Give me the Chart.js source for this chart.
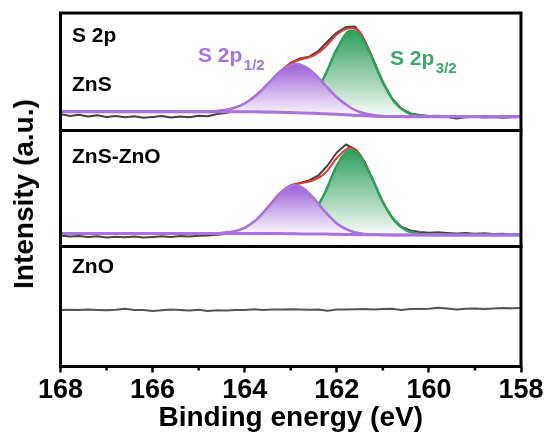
<!DOCTYPE html>
<html>
<head>
<meta charset="utf-8">
<script src="https://cdn.jsdelivr.net/npm/chart.js@4.4.0/dist/chart.umd.min.js"></script>
<style>
  html, body { margin: 0; padding: 0; background: #fff; }
  #wrap { position: relative; width: 549px; height: 434px; overflow: hidden; font-family: "Liberation Sans", Arial, sans-serif; }
  canvas { position: absolute; left: 0; }
  #ytitle {
    position: absolute; left: 24px; top: 194px;
    transform: translate(-50%, -50%) rotate(-90deg);
    font-weight: bold; font-size: 28px; line-height: 1; white-space: nowrap; color: #000;
  }
</style>
</head>
<body>
<div id="wrap">
  <canvas id="zns" width="549" height="131" style="top:0"></canvas>
  <canvas id="mix" width="549" height="119" style="top:129px"></canvas>
  <canvas id="zno" width="549" height="189" style="top:245px"></canvas>
  <div id="ytitle">Intensity (a.u.)</div>
</div>
<script>
// binding energies (eV) of the fitted curves
const fitEnergy = [168, 166, 165, 164.5, 164.25, 164, 163.75, 163.5, 163.25, 163, 162.9, 162.75,
  162.5, 162.25, 162, 161.7, 161.5, 161.25, 161, 160.75, 160.5, 160.25, 160, 159.5, 158];

// binding energies (eV) of the measured spectra
const rawEnergy = [168.0, 167.8, 167.6, 167.4, 167.2, 167.0, 166.8, 166.6, 166.4, 166.2, 166.0,
  165.8, 165.6, 165.4, 165.2, 165.0, 164.8, 164.6, 164.4, 164.2, 164.0, 163.8, 163.6, 163.4,
  163.2, 163.0, 162.8, 162.6, 162.4, 162.2, 162.0, 161.8, 161.6, 161.4, 161.2, 161.0, 160.8,
  160.6, 160.4, 160.2, 160.0, 159.8, 159.6, 159.4, 159.2, 159.0, 158.8, 158.6, 158.4, 158.2, 158.0];

// ZnS
const znsBaseline = [18.8, 18.8, 18.8, 18.8, 18.8, 18.7, 18.7, 18.5, 18.3, 17.9, 17.8, 17.6,
  17.2, 16.7, 16.2, 15.4, 14.9, 14.4, 14.1, 13.9, 13.8, 13.8, 13.8, 13.8, 13.8];
const znsP12 = [18.8, 18.8, 18.9, 20.0, 22.2, 27.0, 35.2, 46.5, 58.0, 65.4, 66.4, 65.2,
  57.4, 45.2, 33.2, 22.7, 18.5, 15.7, 14.4, 14.0, 13.8, 13.8, 13.8, 13.8, 13.8];
const znsP32 = [18.8, 18.8, 18.8, 18.8, 18.8, 18.7, 18.7, 18.5, 18.6, 19.6, 20.7, 23.7,
  34.9, 55.6, 81.3, 99.8, 95.7, 74.4, 48.0, 28.5, 18.6, 15.0, 14.0, 13.8, 13.8];
const znsFit = [18.8, 18.8, 18.9, 20.0, 22.2, 27.0, 35.2, 46.5, 58.4, 67.1, 69.2, 71.5,
  75.0, 83.5, 96.0, 102.6, 98.5, 75.4, 48.3, 28.6, 18.6, 15.0, 14.0, 13.8, 13.8];
const znsRaw = [16.5, 14.5, 15.8, 14.0, 15.2, 13.5, 14.6, 13.2, 14.2, 12.8, 13.6, 14.5, 13.0,
  14.0, 13.3, 14.8, 14.2, 16.5, 17.5, 20.5, 25.5, 32.5, 41.5, 50.5, 59.5, 67.8, 72.0, 73.8,
  79.5, 89.0, 98.0, 103.5, 104.0, 90.0, 69.5, 48.5, 32.0, 22.0, 17.0, 15.5, 14.5, 14.8, 13.6,
  12.0, 13.2, 13.8, 13.0, 13.6, 12.8, 13.3, 13.5];

// ZnS-ZnO
const mixBaseline = [13.0, 13.0, 13.0, 13.0, 13.0, 13.0, 13.0, 12.9, 12.9, 12.8, 12.7, 12.6,
  12.5, 12.4, 12.2, 12.0, 11.8, 11.7, 11.6, 11.5, 11.5, 11.5, 11.5, 11.5, 11.5];
const mixP12 = [13.0, 13.0, 13.0, 13.5, 14.9, 18.7, 26.6, 38.8, 52.3, 60.6, 61.2, 58.9,
  48.3, 34.5, 23.1, 15.5, 13.2, 12.0, 11.7, 11.5, 11.5, 11.5, 11.5, 11.5, 11.5];
const mixP32 = [13.0, 13.0, 13.0, 13.0, 13.0, 13.0, 13.0, 13.0, 13.4, 15.1, 16.7, 20.7,
  33.9, 54.5, 80.9, 96.6, 91.1, 69.7, 44.4, 25.9, 16.4, 12.8, 11.8, 11.5, 11.5];
const mixFit = [13.0, 13.0, 13.0, 13.5, 14.9, 18.7, 26.6, 38.9, 52.8, 61.3, 62.5, 63.5,
  66.5, 73.5, 88.5, 99.0, 92.5, 70.0, 44.5, 25.9, 16.4, 12.8, 11.8, 11.5, 11.5];
const mixRaw = [11.0, 10.0, 10.5, 9.5, 10.2, 9.0, 9.8, 9.2, 10.0, 9.0, 9.5, 10.2, 9.4, 10.5,
  10.0, 10.8, 11.0, 11.8, 12.5, 14.5, 17.5, 24.0, 33.5, 44.5, 54.5, 60.8, 63.5, 66.0, 71.0,
  81.0, 94.0, 102.0, 97.0, 85.0, 64.5, 44.0, 29.0, 19.8, 16.0, 14.5, 13.8, 14.2, 13.5, 13.0,
  13.6, 12.8, 13.2, 12.5, 12.8, 12.0, 12.2];

// ZnO
const znoRaw = [56.5, 56.8, 56.4, 56.9, 56.6, 56.3, 56.7, 57.8, 56.4, 56.6, 55.6, 56.3, 56.9,
  56.5, 55.9, 56.8, 55.5, 56.2, 56.1, 56.4, 56.5, 57.2, 56.6, 56.9, 57.1, 57.3, 57.0, 56.8,
  57.0, 55.7, 57.1, 56.9, 57.2, 57.4, 57.0, 57.5, 57.8, 56.6, 57.6, 57.5, 57.8, 58.8, 58.0,
  57.0, 57.8, 58.1, 57.6, 57.9, 58.4, 58.2, 58.6];

const FONT = '"Liberation Sans", Arial, sans-serif';
const PURPLE = "#a872e0";
const GREEN = "#2f9f5c";
const RED = "#e8342c";
const GRAY = "#444444";

Chart.defaults.font.family = FONT;

function toPoints(xs, ys) {
  return xs.map((x, i) => ({ x: x, y: ys[i] }));
}

function gradientFill(topColor, bottomColor) {
  return (context) => {
    const chart = context.chart;
    if (!chart.chartArea) return topColor;
    const ys = chart.data.datasets[context.datasetIndex].data.map((p) => p.y);
    const yScale = chart.scales.y;
    const g = chart.ctx.createLinearGradient(
      0, yScale.getPixelForValue(Math.max(...ys)),
      0, yScale.getPixelForValue(Math.min(...ys))
    );
    g.addColorStop(0, topColor);
    g.addColorStop(1, bottomColor);
    return g;
  };
}

const panelPlugin = {
  id: "panel",
  afterDraw(chart, args, opts) {
    const { ctx, chartArea } = chart;
    ctx.save();
    ctx.strokeStyle = "#000";
    ctx.lineWidth = 3;
    ctx.strokeRect(chartArea.left, chartArea.top,
      chartArea.right - chartArea.left, chartArea.bottom - chartArea.top);

    if (opts.minorTicks) {
      const xScale = chart.scales.x;
      ctx.lineWidth = 2.5;
      xScale.ticks.filter((t) => t.value % 2 !== 0).forEach((t) => {
        const px = xScale.getPixelForValue(t.value);
        ctx.beginPath();
        ctx.moveTo(px, chartArea.bottom);
        ctx.lineTo(px, chartArea.bottom + 4);
        ctx.stroke();
      });
    }

    (opts.labels || []).forEach((l) => {
      ctx.fillStyle = l.color || "#000";
      ctx.textBaseline = "alphabetic";
      ctx.textAlign = "left";
      ctx.font = `bold ${l.size}px ${FONT}`;
      ctx.fillText(l.text, l.x, l.y);
      if (l.sub) {
        const w = ctx.measureText(l.text).width;
        ctx.font = `bold 15px ${FONT}`;
        ctx.fillText(l.sub, l.x + w + 1.5, l.y + 8);
      }
    });
    ctx.restore();
  },
};

// order: lower value is drawn on top
function fitDatasets(baseline, p12, p32, fit, raw) {
  return [
    {
      data: toPoints(fitEnergy, p12),
      borderColor: PURPLE, borderWidth: 2.5,
      fill: 2,
      backgroundColor: gradientFill("#9c60d6", "#fdfbff"),
      cubicInterpolationMode: "monotone",
      order: 1,
    },
    {
      data: toPoints(fitEnergy, p32),
      borderColor: GREEN, borderWidth: 2.5,
      fill: 2,
      backgroundColor: gradientFill("#2f9d5b", "#f8fcf9"),
      cubicInterpolationMode: "monotone",
      order: 2,
    },
    {
      data: toPoints(fitEnergy, baseline),
      borderColor: PURPLE, borderWidth: 3,
      cubicInterpolationMode: "monotone",
      order: 0,
    },
    {
      data: toPoints(fitEnergy, fit),
      borderColor: RED, borderWidth: 2,
      cubicInterpolationMode: "monotone",
      order: 3,
    },
    {
      data: toPoints(rawEnergy, raw),
      borderColor: GRAY, borderWidth: 2,
      tension: 0,
      order: 4,
    },
  ];
}

function makePanel(id, datasets, yMax, padding, xOptions, panelOpts) {
  return new Chart(document.getElementById(id), {
    type: "line",
    data: { datasets: datasets },
    options: {
      responsive: false,
      animation: false,
      devicePixelRatio: 1,
      layout: { padding: padding },
      elements: { point: { radius: 0 }, line: { borderJoinStyle: "round" } },
      scales: {
        x: Object.assign({ type: "linear", min: 158, max: 168, reverse: true, display: false }, xOptions),
        y: { display: false, min: 0, max: yMax },
      },
      plugins: {
        legend: { display: false },
        tooltip: { enabled: false },
        panel: panelOpts,
      },
    },
    plugins: [panelPlugin],
  });
}

makePanel("zns",
  fitDatasets(znsBaseline, znsP12, znsP32, znsFit, znsRaw),
  117.5,
  { left: 60.5, right: 28, top: 13, bottom: 0.5 },
  {},
  {
    labels: [
      { text: "S 2p", x: 72, y: 41.5, size: 21 },
      { text: "ZnS", x: 72, y: 91, size: 21 },
      { text: "S 2p", sub: "1/2", x: 198, y: 62, size: 21, color: "#a872e0" },
      { text: "S 2p", sub: "3/2", x: 390, y: 65, size: 21, color: "#3aa867" },
    ],
  }
);

makePanel("mix",
  fitDatasets(mixBaseline, mixP12, mixP32, mixFit, mixRaw),
  116,
  { left: 60.5, right: 28, top: 1.5, bottom: 1.5 },
  {},
  { labels: [{ text: "ZnS-ZnO", x: 72, y: 34.3, size: 21 }] }
);

makePanel("zno",
  [{ data: toPoints(rawEnergy, znoRaw), borderColor: "#555555", borderWidth: 2, tension: 0 }],
  120,
  { left: 60.5, right: 28, top: 1.5, bottom: 0 },
  {
    display: true,
    border: { display: false },
    grid: {
      drawOnChartArea: false,
      drawTicks: true,
      tickLength: 6,
      tickWidth: 2.5,
      tickColor: (c) => (c.tick && c.tick.value % 2 === 0 ? "#000" : "rgba(0,0,0,0)"),
    },
    ticks: {
      stepSize: 1,
      autoSkip: false,
      maxRotation: 0,
      padding: 5,
      color: "#000",
      font: { size: 27, weight: "bold", lineHeight: 1 },
      callback: (v) => (v % 2 === 0 ? String(v) : ""),
    },
    title: {
      display: true,
      text: "Binding energy (eV)",
      color: "#000",
      font: { size: 28, weight: "bold", lineHeight: 1.2 },
      padding: { top: -8.3, bottom: -0.8 },
    },
  },
  { minorTicks: true, labels: [{ text: "ZnO", x: 72, y: 28.3, size: 21 }] }
);
</script>
</body>
</html>
